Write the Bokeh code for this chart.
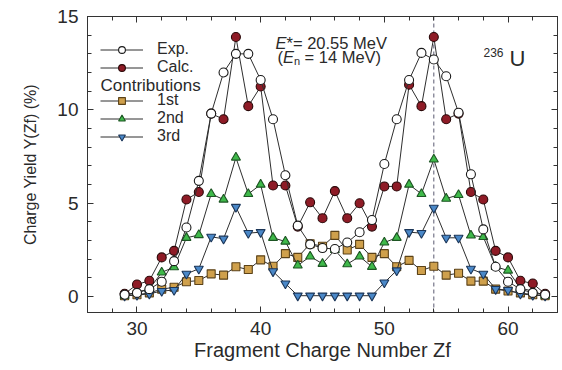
from bokeh.embed import file_html
from bokeh.models import (ColumnDataSource, FixedTicker, Label, Legend,
                          LegendItem, LinearAxis, Range1d, Span)
from bokeh.plotting import figure
from bokeh.resources import INLINE

# Fragment charge numbers Z_f
z_frag = list(range(29, 64))

# Charge yields Y(Z_f) in percent
exp_yield = [0.1, 0.2, 0.4, 0.8, 1.9, 3.7, 6.2, 9.8, 12.0, 13.0,
             13.0, 11.6, 9.5, 6.5, 3.8, 2.8, 2.6, 2.55, 2.9, 3.45,
             4.1, 7.1, 9.5, 11.6, 13.05, 12.7, 11.8, 9.85, 6.55, 3.6,
             1.6, 0.8, 0.4, 0.2, 0.1]
calc_yield = [0.15, 0.65, 0.85, 2.1, 2.45, 5.2, 5.6, 9.8, 9.5, 13.9,
              10.2, 11.25, 5.95, 5.95, 3.75, 5.05, 4.2, 5.65, 4.2, 5.0,
              3.75, 5.9, 5.9, 11.35, 10.2, 13.9, 9.5, 9.8, 5.6, 5.2,
              2.45, 2.1, 0.85, 0.7, 0.15]
first_chance = [0.05, 0.1, 0.2, 0.4, 0.5, 0.8, 0.86, 1.22, 1.15, 1.6,
                1.45, 1.97, 1.63, 2.3, 2.1, 2.83, 2.7, 3.28, 2.5, 2.8,
                2.1, 2.3, 1.6, 1.94, 1.4, 1.63, 1.15, 1.25, 0.83, 0.83,
                0.4, 0.3, 0.2, 0.1, 0.05]
second_chance = [0.05, 0.25, 0.4, 1.3, 1.58, 3.15, 3.3, 5.5, 5.2, 7.45,
                 5.5, 6.0, 3.15, 2.95, 1.67, 2.15, 1.76, 2.5, 1.74, 2.15,
                 1.6, 2.9, 3.15, 6.0, 5.5, 7.35, 5.25, 5.45, 3.28, 3.2,
                 1.6, 1.4, 0.45, 0.3, 0.05]
third_chance = [0.05, 0.08, 0.15, 0.3, 0.35, 1.22, 1.49, 3.2, 3.1, 4.8,
                3.4, 3.45, 1.35, 0.7, 0.05, 0.05, 0.05, 0.05, 0.05, 0.05,
                0.05, 0.75, 1.4, 3.45, 3.4, 4.75, 3.15, 3.15, 1.49, 1.22,
                0.4, 0.35, 0.15, 0.08, 0.05]

# Heavy-fragment peak position (dashed guide)
peak_z = 54

x_major = [30, 40, 50, 60]
x_minor = list(range(26, 65, 2))
y_major = [0, 5, 10, 15]
y_minor = list(range(0, 16))

x_title = "Fragment Charge Number Zf"
y_title = "Charge Yield Y(Zf) (%)"

FONT = "Liberation Sans"
TEXT = "#2a2a2a"
EDGE = "#333333"

src = ColumnDataSource(dict(z=z_frag, exp=exp_yield, calc=calc_yield,
                            c1=first_chance, c2=second_chance, c3=third_chance))

p = figure(width=562, height=370, output_backend="svg", toolbar_location=None,
           x_range=Range1d(26, 64), y_range=Range1d(-0.85, 15),
           min_border_left=87, min_border_right=5, min_border_top=16,
           min_border_bottom=58, background_fill_color="white",
           border_fill_color="white")
p.grid.visible = False
p.outline_line_color = EDGE
p.outline_line_width = 1


def style_axis(ax, ticker, show_labels):
    ax.ticker = ticker
    ax.axis_line_color = EDGE
    ax.major_tick_line_color = EDGE
    ax.minor_tick_line_color = EDGE
    ax.major_tick_in = 6
    ax.major_tick_out = 0
    ax.minor_tick_in = 4
    ax.minor_tick_out = 0
    ax.major_label_text_font = FONT
    ax.major_label_text_color = TEXT
    if show_labels:
        ax.major_label_text_font_size = "19px"
        ax.major_label_standoff = 9
    else:
        # mirrored frame ticks only
        ax.major_label_overrides = {t: "" for t in ticker.ticks}
        ax.major_label_text_font_size = "1px"
        ax.major_label_standoff = 0
    ax.axis_label_text_font = FONT
    ax.axis_label_text_font_style = "normal"
    ax.axis_label_text_color = TEXT


style_axis(p.xaxis[0], FixedTicker(ticks=x_major, minor_ticks=x_minor), True)
style_axis(p.yaxis[0], FixedTicker(ticks=y_major, minor_ticks=y_minor), True)
p.xaxis[0].axis_label = x_title
p.xaxis[0].axis_label_text_font_size = "20px"
p.xaxis[0].axis_label_standoff = 1
p.yaxis[0].axis_label = y_title
p.yaxis[0].axis_label_text_font_size = "16px"
p.yaxis[0].axis_label_standoff = 15

top_ax = LinearAxis()
style_axis(top_ax, FixedTicker(ticks=x_major, minor_ticks=x_minor), False)
p.add_layout(top_ax, "above")
right_ax = LinearAxis()
style_axis(right_ax, FixedTicker(ticks=y_major, minor_ticks=y_minor), False)
p.add_layout(right_ax, "right")

p.add_layout(Span(location=peak_z, dimension="height", line_color="#5a5a70",
                  line_dash="4 3", line_width=1, level="underlay"))

LINE = "#2e2e2e"
series = [
    ("c1", "square", "#cfa04c", "#5b4218", 8),
    ("c2", "triangle", "#3fb94a", "#1d5523", 9),
    ("c3", "inverted_triangle", "#4a88c8", "#1c3658", 9),
    ("calc", "circle", "#8e1b26", "#2a0808", 9),
    ("exp", "circle", "white", "#1a1a1a", 9),
]
handles = {}
for col, marker, fill, edge, size in series:
    ln = p.line("z", col, source=src, line_color=LINE, line_width=1)
    sc = p.scatter("z", col, source=src, marker=marker, size=size,
                   fill_color=fill, line_color=edge, line_width=1.1)
    handles[col] = [ln, sc]


def make_legend(items, loc):
    lg = Legend(items=items, location=loc, margin=0, padding=0,
                border_line_alpha=0, background_fill_alpha=0,
                glyph_width=43, glyph_height=17, label_height=17,
                label_standoff=14, spacing=0,
                label_text_font=FONT, label_text_font_size="16px",
                label_text_color=TEXT)
    p.add_layout(lg)


make_legend([LegendItem(label="Exp.", renderers=handles["exp"]),
             LegendItem(label="Calc.", renderers=handles["calc"])], (13, 236))
make_legend([LegendItem(label="1st", renderers=handles["c1"]),
             LegendItem(label="2nd", renderers=handles["c2"]),
             LegendItem(label="3rd", renderers=handles["c3"])], (13, 167))


def put(text, sx, sy, size=16, style="normal"):
    p.add_layout(Label(x=sx, y=sy, x_units="screen", y_units="screen",
                       text=text, text_font=FONT,
                       text_font_size=f"{size}px", text_font_style=style,
                       text_color=TEXT, text_align="left",
                       text_baseline="middle"))


# legend group heading
put("Contributions", 13, 227, size=17)

# excitation energy note
put("E", 188, 270, size=16.5, style="italic")
put("*= 20.55 MeV", 199, 270, size=16.5)
put("(", 190, 256, size=16.5)
put("E", 195.5, 256, size=16.5, style="italic")
put("n", 206.5, 252, size=11)
put("= 14 MeV)", 217, 256, size=16.5)

# compound nucleus
put("236", 396, 260, size=12)
put("U", 422, 254, size=22)

open("out.html", "w").write(file_html(p, INLINE))
